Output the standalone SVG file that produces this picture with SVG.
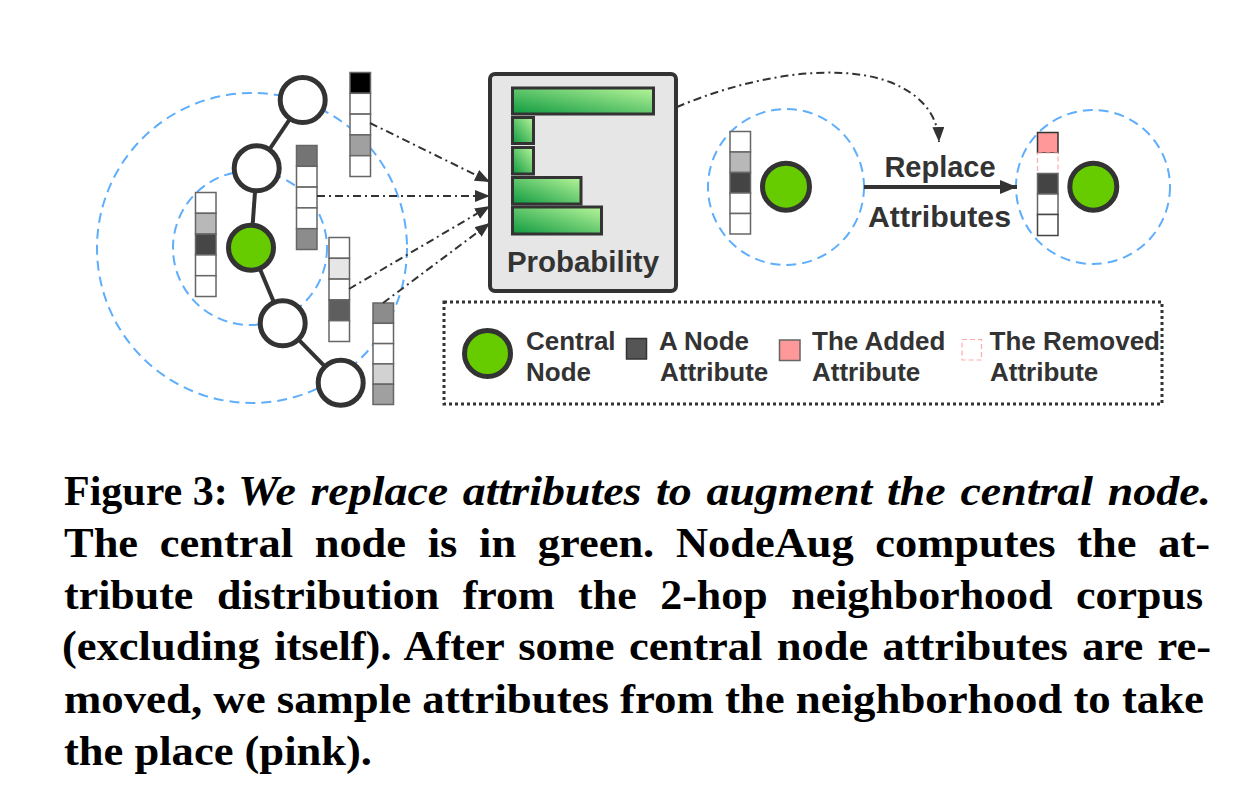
<svg xmlns="http://www.w3.org/2000/svg" width="1238" height="789" viewBox="0 0 1238 789">
<style>
.dash{fill:none;stroke:#5eaefc;stroke-width:2;stroke-dasharray:10,6}
.node{fill:#fff;stroke:#333;stroke-width:5}
.green{fill:#66cc00;stroke:#333;stroke-width:5}
.edge{stroke:#333;stroke-width:4}
.cell{stroke:#666;stroke-width:1.5}
.dd{fill:none;stroke:#333;stroke-width:2;stroke-dasharray:8,4,2,4}
.bar{fill:url(#g);stroke:#333;stroke-width:3}
.lbl{font-family:"Liberation Sans",Arial,sans-serif;font-weight:bold;fill:#333}
.cap{font-family:"Liberation Serif","Times New Roman",serif;font-weight:bold;font-size:42px;fill:#000}
</style>
<defs>
<linearGradient id="g" x1="0" y1="1" x2="1" y2="0">
<stop offset="0" stop-color="#0f9a40"/>
<stop offset="1" stop-color="#b8f59a"/>
</linearGradient>
<marker id="ah" markerUnits="userSpaceOnUse" markerWidth="16" markerHeight="12" refX="15" refY="6" orient="auto">
<path d="M0,0 L15,6 L0,12 z" fill="#333"/>
</marker>
<marker id="ah2" markerUnits="userSpaceOnUse" markerWidth="18" markerHeight="14" refX="17" refY="7" orient="auto">
<path d="M0,0 L17,7 L0,14 z" fill="#333"/>
</marker>
</defs>

<g id="neighborhood-circles">
<circle class="dash" cx="252" cy="248" r="155"/>
<circle class="dash" cx="250" cy="248" r="77"/>
<circle class="dash" cx="786" cy="187" r="78"/>
<circle class="dash" cx="1093" cy="187" r="77"/>
</g>

<g id="graph-edges">
<line class="edge" x1="302.7" y1="100" x2="256.7" y2="168.3"/>
<line class="edge" x1="256.7" y1="168.3" x2="251" y2="247.7"/>
<line class="edge" x1="251" y1="247.7" x2="282.7" y2="323.3"/>
<line class="edge" x1="282.7" y1="323.3" x2="340.7" y2="382.7"/>
</g>

<g id="node-1"><circle class="node" cx="302.7" cy="100" r="22.5"/></g>
<g id="node-2"><circle class="node" cx="256.7" cy="168.3" r="22.5"/></g>
<g id="node-central"><circle class="green" cx="251" cy="247.7" r="22.5"/></g>
<g id="node-4"><circle class="node" cx="282.7" cy="323.3" r="22.5"/></g>
<g id="node-5"><circle class="node" cx="340.7" cy="382.7" r="22.5"/></g>

<g id="vector-a">
<rect class="cell" x="350" y="72.5" width="20.5" height="20.8" fill="#000"/>
<rect class="cell" x="350" y="93.3" width="20.5" height="20.8" fill="#fff"/>
<rect class="cell" x="350" y="114.1" width="20.5" height="20.8" fill="#fff"/>
<rect class="cell" x="350" y="134.9" width="20.5" height="20.8" fill="#a0a0a0"/>
<rect class="cell" x="350" y="155.7" width="20.5" height="20.8" fill="#fff"/>
</g>
<g id="vector-b">
<rect class="cell" x="296.5" y="145.5" width="20.5" height="20.8" fill="#747474"/>
<rect class="cell" x="296.5" y="166.3" width="20.5" height="20.8" fill="#fff"/>
<rect class="cell" x="296.5" y="187.1" width="20.5" height="20.8" fill="#fff"/>
<rect class="cell" x="296.5" y="207.9" width="20.5" height="20.8" fill="#fff"/>
<rect class="cell" x="296.5" y="228.7" width="20.5" height="20.8" fill="#8c8c8c" stroke="#333"/>
</g>
<g id="vector-c">
<rect class="cell" x="195.5" y="192.5" width="20.5" height="20.8" fill="#fff"/>
<rect class="cell" x="195.5" y="213.3" width="20.5" height="20.8" fill="#b8b8b8"/>
<rect class="cell" x="195.5" y="234.1" width="20.5" height="20.8" fill="#464646"/>
<rect class="cell" x="195.5" y="254.9" width="20.5" height="20.8" fill="#fff"/>
<rect class="cell" x="195.5" y="275.7" width="20.5" height="20.8" fill="#fff"/>
</g>
<g id="vector-d">
<rect class="cell" x="329" y="237.5" width="20.5" height="20.8" fill="#fff"/>
<rect class="cell" x="329" y="258.3" width="20.5" height="20.8" fill="#e6e6e6"/>
<rect class="cell" x="329" y="279.1" width="20.5" height="20.8" fill="#fff"/>
<rect class="cell" x="329" y="299.9" width="20.5" height="20.8" fill="#5e5e5e"/>
<rect class="cell" x="329" y="320.7" width="20.5" height="20.8" fill="#fff"/>
</g>
<g id="vector-e">
<rect class="cell" x="373" y="303" width="20.5" height="20.3" fill="#8c8c8c"/>
<rect class="cell" x="373" y="323.3" width="20.5" height="20.3" fill="#fff"/>
<rect class="cell" x="373" y="343.6" width="20.5" height="20.3" fill="#fff"/>
<rect class="cell" x="373" y="363.9" width="20.5" height="20.3" fill="#d2d2d2"/>
<rect class="cell" x="373" y="384.2" width="20.5" height="20.3" fill="#a0a0a0"/>
</g>

<g id="probability">
<rect x="490" y="74" width="186" height="217" rx="5" fill="#e6e6e6" stroke="#333" stroke-width="4"/>
<rect class="bar" x="512.5" y="88" width="141" height="26"/>
<rect class="bar" x="512.5" y="117.5" width="21" height="26"/>
<rect class="bar" x="512.5" y="147.5" width="21" height="26.5"/>
<rect class="bar" x="512.5" y="177.5" width="68.5" height="26.5"/>
<rect class="bar" x="512.5" y="207" width="89" height="27"/>
<text class="lbl" x="507" y="272" font-size="29" textLength="152" lengthAdjust="spacingAndGlyphs">Probability</text>
</g>

<g id="before-node">
<rect class="cell" x="730" y="131.5" width="20.5" height="20.5" fill="#fff"/>
<rect class="cell" x="730" y="152" width="20.5" height="20.5" fill="#b8b8b8"/>
<rect class="cell" x="730" y="172.5" width="20.5" height="20.5" fill="#444"/>
<rect class="cell" x="730" y="193" width="20.5" height="20.5" fill="#fff"/>
<rect class="cell" x="730" y="213.5" width="20.5" height="20.5" fill="#fff"/>
<circle class="green" cx="786" cy="186.7" r="23.5"/>
</g>

<g id="after-node">
<rect x="1037.5" y="132.5" width="20.5" height="20.5" fill="#ff9999" stroke="#333" stroke-width="1.5"/>
<rect x="1037.5" y="153" width="20.5" height="20.5" fill="#fff" stroke="#ffaaaa" stroke-width="1.2" stroke-dasharray="5,3"/>
<rect class="cell" x="1037.5" y="173.5" width="20.5" height="20.5" fill="#444"/>
<rect class="cell" x="1037.5" y="194" width="20.5" height="20.5" fill="#fff"/>
<rect x="1037.5" y="214.5" width="20.5" height="21" fill="#fff" stroke="#444" stroke-width="1.5"/>
<circle class="green" cx="1093.3" cy="186.7" r="23.5"/>
</g>

<g id="connectors">
<line class="dd" x1="370" y1="123" x2="490" y2="182" marker-end="url(#ah)"/>
<line class="dd" x1="317" y1="196" x2="490" y2="196" marker-end="url(#ah)"/>
<line class="dd" x1="349" y1="289" x2="490" y2="206" marker-end="url(#ah)"/>
<line class="dd" x1="383" y1="303" x2="490" y2="223" marker-end="url(#ah)"/>
<path class="dd" d="M677,107 C740,80 830,60 890,82 C925,96 938,118 939,142" marker-end="url(#ah)"/>
<line x1="864" y1="187" x2="1017" y2="187" stroke="#333" stroke-width="4" marker-end="url(#ah2)"/>
<text class="lbl" x="940" y="177" font-size="29" text-anchor="middle">Replace</text>
<text class="lbl" x="868" y="227" font-size="29" textLength="143" lengthAdjust="spacingAndGlyphs">Attributes</text>
</g>

<g id="legend">
<rect x="444" y="302" width="718" height="102" fill="none" stroke="#333" stroke-width="3" stroke-dasharray="3,3"/>
<circle class="green" cx="487.5" cy="353.5" r="23"/>
<text class="lbl" font-size="26" x="526" y="349.5">Central</text>
<text class="lbl" font-size="26" x="526" y="381">Node</text>
<rect x="626.5" y="338.5" width="20" height="20.5" fill="#555" stroke="#333" stroke-width="1.5"/>
<text class="lbl" font-size="26" x="659" y="349.5">A Node</text>
<text class="lbl" font-size="26" x="660" y="381">Attribute</text>
<rect x="779.5" y="340" width="20.5" height="20.5" fill="#ff9999" stroke="#666" stroke-width="1.5"/>
<text class="lbl" font-size="26" x="812" y="349.5">The Added</text>
<text class="lbl" font-size="26" x="812" y="381">Attribute</text>
<rect x="962" y="339.5" width="19.5" height="20.5" fill="none" stroke="#ffaaaa" stroke-width="1.2" stroke-dasharray="5,3"/>
<text class="lbl" font-size="26" x="989.5" y="349.5">The Removed</text>
<text class="lbl" font-size="26" x="990" y="381">Attribute</text>
</g>

<g id="caption">
<text class="cap" x="64" y="505">Figure 3:</text>
<text class="cap" x="238" y="505" font-style="italic" word-spacing="3" textLength="973" lengthAdjust="spacingAndGlyphs">We replace attributes to augment the central node.</text>
<text class="cap" x="64" y="557" word-spacing="10" textLength="1146" lengthAdjust="spacingAndGlyphs">The central node is in green. NodeAug computes the at-</text>
<text class="cap" x="64" y="608.5" word-spacing="12" textLength="1139" lengthAdjust="spacingAndGlyphs">tribute distribution from the 2-hop neighborhood corpus</text>
<text class="cap" x="62" y="660" word-spacing="3" textLength="1149" lengthAdjust="spacingAndGlyphs">(excluding itself). After some central node attributes are re-</text>
<text class="cap" x="64" y="713" textLength="1140" lengthAdjust="spacingAndGlyphs">moved, we sample attributes from the neighborhood to take</text>
<text class="cap" x="64" y="765" textLength="308" lengthAdjust="spacingAndGlyphs">the place (pink).</text>
</g>
</svg>
